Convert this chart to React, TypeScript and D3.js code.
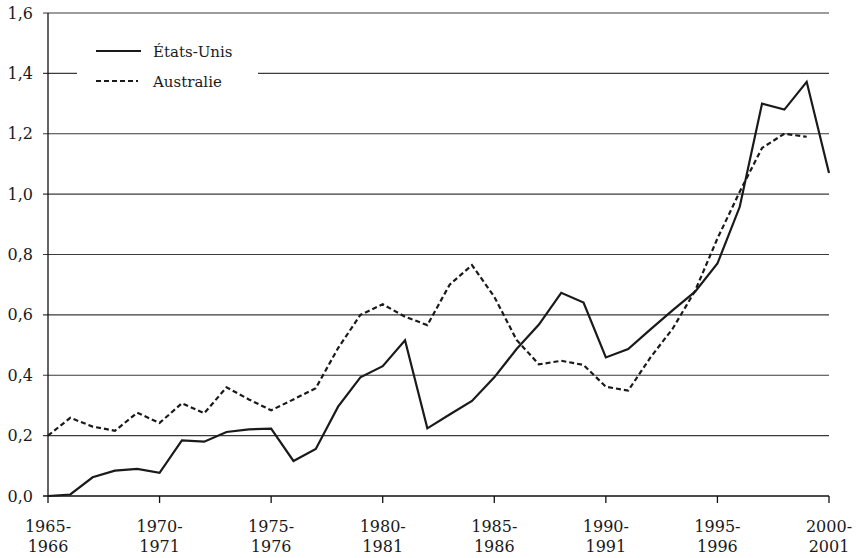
import * as d3 from "d3";
import React, { useEffect, useRef } from "react";

const years = d3.range(1965, 2001);

const etatsUnis = [
  0.0, 0.005, 0.062, 0.084, 0.09, 0.077, 0.184, 0.18, 0.212, 0.221,
  0.223, 0.116, 0.156, 0.296, 0.393, 0.43, 0.516, 0.224, 0.27, 0.315,
  0.393, 0.487, 0.568, 0.673, 0.641, 0.459, 0.487, 0.552, 0.616, 0.677,
  0.77, 0.958, 1.3, 1.28, 1.372, 1.07,
];

// pas de valeur pour 2000-2001
const australie = [
  0.2, 0.259, 0.23, 0.216, 0.276, 0.242, 0.307, 0.274, 0.36, 0.32,
  0.284, 0.32, 0.357, 0.49, 0.6, 0.635, 0.594, 0.566, 0.7, 0.765,
  0.66, 0.517, 0.436, 0.448, 0.434, 0.362, 0.349, 0.459, 0.555, 0.68,
  0.853, 1.008, 1.153, 1.2, 1.19,
];

const yTicks = [0, 0.2, 0.4, 0.6, 0.8, 1.0, 1.2, 1.4, 1.6];
const xTickYears = [1965, 1970, 1975, 1980, 1985, 1990, 1995, 2000];

export default function App() {
  const svgRef = useRef<SVGSVGElement | null>(null);

  useEffect(() => {
    if (!svgRef.current) return;
    const svg = d3.select(svgRef.current);
    svg.selectAll("*").remove();

    const width = 858;
    const height = 558;
    const font = "'DejaVu Serif', serif";

    const x = d3.scaleLinear().domain([1965, 2000]).range([48, 829]);
    const y = d3.scaleLinear().domain([0, 1.6]).range([496, 13]);

    svg.attr("width", width).attr("height", height);

    // Grid lines
    svg.append("g")
      .selectAll("line")
      .data(yTicks.filter((d) => d > 0))
      .enter()
      .append("line")
      .attr("x1", 43)
      .attr("x2", x(2000))
      .attr("y1", (d) => y(d))
      .attr("y2", (d) => y(d))
      .attr("stroke", "#3a3a3a")
      .attr("stroke-width", 1.2);

    // Axes
    svg.append("line")
      .attr("x1", x(1965)).attr("x2", x(1965))
      .attr("y1", y(0)).attr("y2", y(1.6))
      .attr("stroke", "#111").attr("stroke-width", 1.3);
    svg.append("line")
      .attr("x1", 43).attr("x2", x(2000))
      .attr("y1", y(0)).attr("y2", y(0))
      .attr("stroke", "#111").attr("stroke-width", 1.3);

    svg.append("g")
      .selectAll("line")
      .data(xTickYears)
      .enter()
      .append("line")
      .attr("x1", (d) => x(d)).attr("x2", (d) => x(d))
      .attr("y1", y(0)).attr("y2", y(0) + 7)
      .attr("stroke", "#111").attr("stroke-width", 1.3);

    // Y labels
    svg.append("g")
      .selectAll("text")
      .data(yTicks)
      .enter()
      .append("text")
      .attr("x", 33)
      .attr("y", (d) => y(d))
      .attr("dy", "0.35em")
      .attr("text-anchor", "end")
      .style("font-family", font)
      .style("font-size", "16px")
      .style("fill", "#1a1a1a")
      .text((d) => d.toFixed(1).replace(".", ","));

    // X labels (two lines)
    const xl = svg.append("g")
      .selectAll("text")
      .data(xTickYears)
      .enter()
      .append("text")
      .attr("text-anchor", "middle")
      .style("font-family", font)
      .style("font-size", "16px")
      .style("fill", "#1a1a1a");
    xl.append("tspan")
      .attr("x", (d) => x(d))
      .attr("y", 532)
      .text((d) => `${d}-`);
    xl.append("tspan")
      .attr("x", (d) => x(d))
      .attr("y", 552)
      .text((d) => `${d + 1}`);

    // Series
    const line = d3.line<number>()
      .x((_, i) => x(years[i]))
      .y((d) => y(d));

    svg.append("path")
      .datum(australie)
      .attr("d", line)
      .attr("fill", "none")
      .attr("stroke", "#1a1a1a")
      .attr("stroke-width", 2.2)
      .attr("stroke-dasharray", "5,3");

    svg.append("path")
      .datum(etatsUnis)
      .attr("d", line)
      .attr("fill", "none")
      .attr("stroke", "#1a1a1a")
      .attr("stroke-width", 2.2);

    // Legend
    const legend = svg.append("g");
    legend.append("rect")
      .attr("x", 77).attr("y", 28)
      .attr("width", 181).attr("height", 72)
      .attr("fill", "white");
    legend.append("line")
      .attr("x1", 96).attr("x2", 141)
      .attr("y1", 51).attr("y2", 51)
      .attr("stroke", "#1a1a1a").attr("stroke-width", 2.2);
    legend.append("line")
      .attr("x1", 96).attr("x2", 138)
      .attr("y1", 81).attr("y2", 81)
      .attr("stroke", "#1a1a1a").attr("stroke-width", 2.2)
      .attr("stroke-dasharray", "5,3");
    legend.append("text")
      .attr("x", 153).attr("y", 57)
      .style("font-family", font).style("font-size", "15px").style("fill", "#1a1a1a")
      .text("États-Unis");
    legend.append("text")
      .attr("x", 153).attr("y", 87)
      .style("font-family", font).style("font-size", "15px").style("fill", "#1a1a1a")
      .text("Australie");
  }, []);

  return (
    <svg
      ref={svgRef}
      style={{ position: "absolute", left: 0, top: 0, background: "white" }}
    />
  );
}
